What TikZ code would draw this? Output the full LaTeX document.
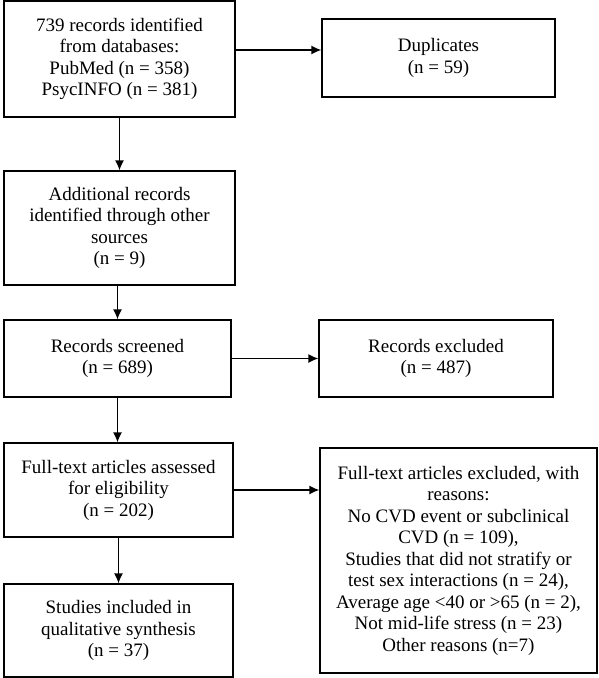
\documentclass[tikz,border=0pt]{standalone}
\usepackage{fontspec}
\setmainfont{Liberation Serif}
\usepackage{tikz}
\usetikzlibrary{arrows.meta}

\begin{document}
\begin{tikzpicture}[x=1pt,y=-1pt,
  box/.style={draw=black,line width=1.1pt,align=center,inner sep=0pt,
    font=\rmfamily\fontsize{19}{21.5}\selectfont},
  flow/.style={black,-{Latex[length=10pt,width=9pt]},line width=1.6pt}]
 \useasboundingbox (0,0) rectangle (598,678);
 \node[box,minimum width=231pt,minimum height=116pt] (found) at (119.5,59) {739 records identified\\from databases:\\PubMed (n = 358)\\PsycINFO (n = 381)};
 \node[box,minimum width=233pt,minimum height=78pt] (dupes) at (438.5,58) {Duplicates\\(n = 59)};
 \node[box,minimum width=231pt,minimum height=114pt] (extra) at (119.5,228) {Additional records\\identified through other\\sources\\(n = 9)};
 \node[box,minimum width=227pt,minimum height=77pt] (screened) at (117.5,358.5) {Records screened\\(n = 689)};
 \node[box,minimum width=234pt,minimum height=77pt] (dropped) at (436,358.5) {Records excluded\\(n = 487)};
 \node[box,minimum width=229pt,minimum height=94pt] (fulltext) at (118.5,490) {Full-text articles assessed\\for eligibility\\(n = 202)};
 \node[box,minimum width=229pt,minimum height=93pt] (included) at (118.5,630.5) {Studies included in\\qualitative synthesis\\(n = 37)};
 \node[box,minimum width=277pt,minimum height=225pt] (reasons) at (458.5,560.5) {Full-text articles excluded, with\\reasons:\\No CVD event or subclinical\\CVD (n = 109),\\Studies that did not stratify or\\test sex interactions (n = 24),\\Average age <40 or >65 (n = 2),\\Not mid-life stress (n = 23)\\Other reasons (n=7)};
 \draw[flow] (found.south) -- (found.south |- extra.north);
 \draw[flow] ([yshift=9pt]found.east) -- ([yshift=9pt]found.east -| dupes.west);
 \draw[flow] (extra.south) -- (extra.south -| screened.north) -- (screened.north);
 \draw[flow] (screened.south) -- (screened.south |- fulltext.north);
 \draw[flow] (screened.east) -- (dropped.west);
 \draw[flow] (fulltext.east) -- (fulltext.east -| reasons.west);
 \draw[flow] (fulltext.south) -- (fulltext.south |- included.north);
\end{tikzpicture}
\end{document}
